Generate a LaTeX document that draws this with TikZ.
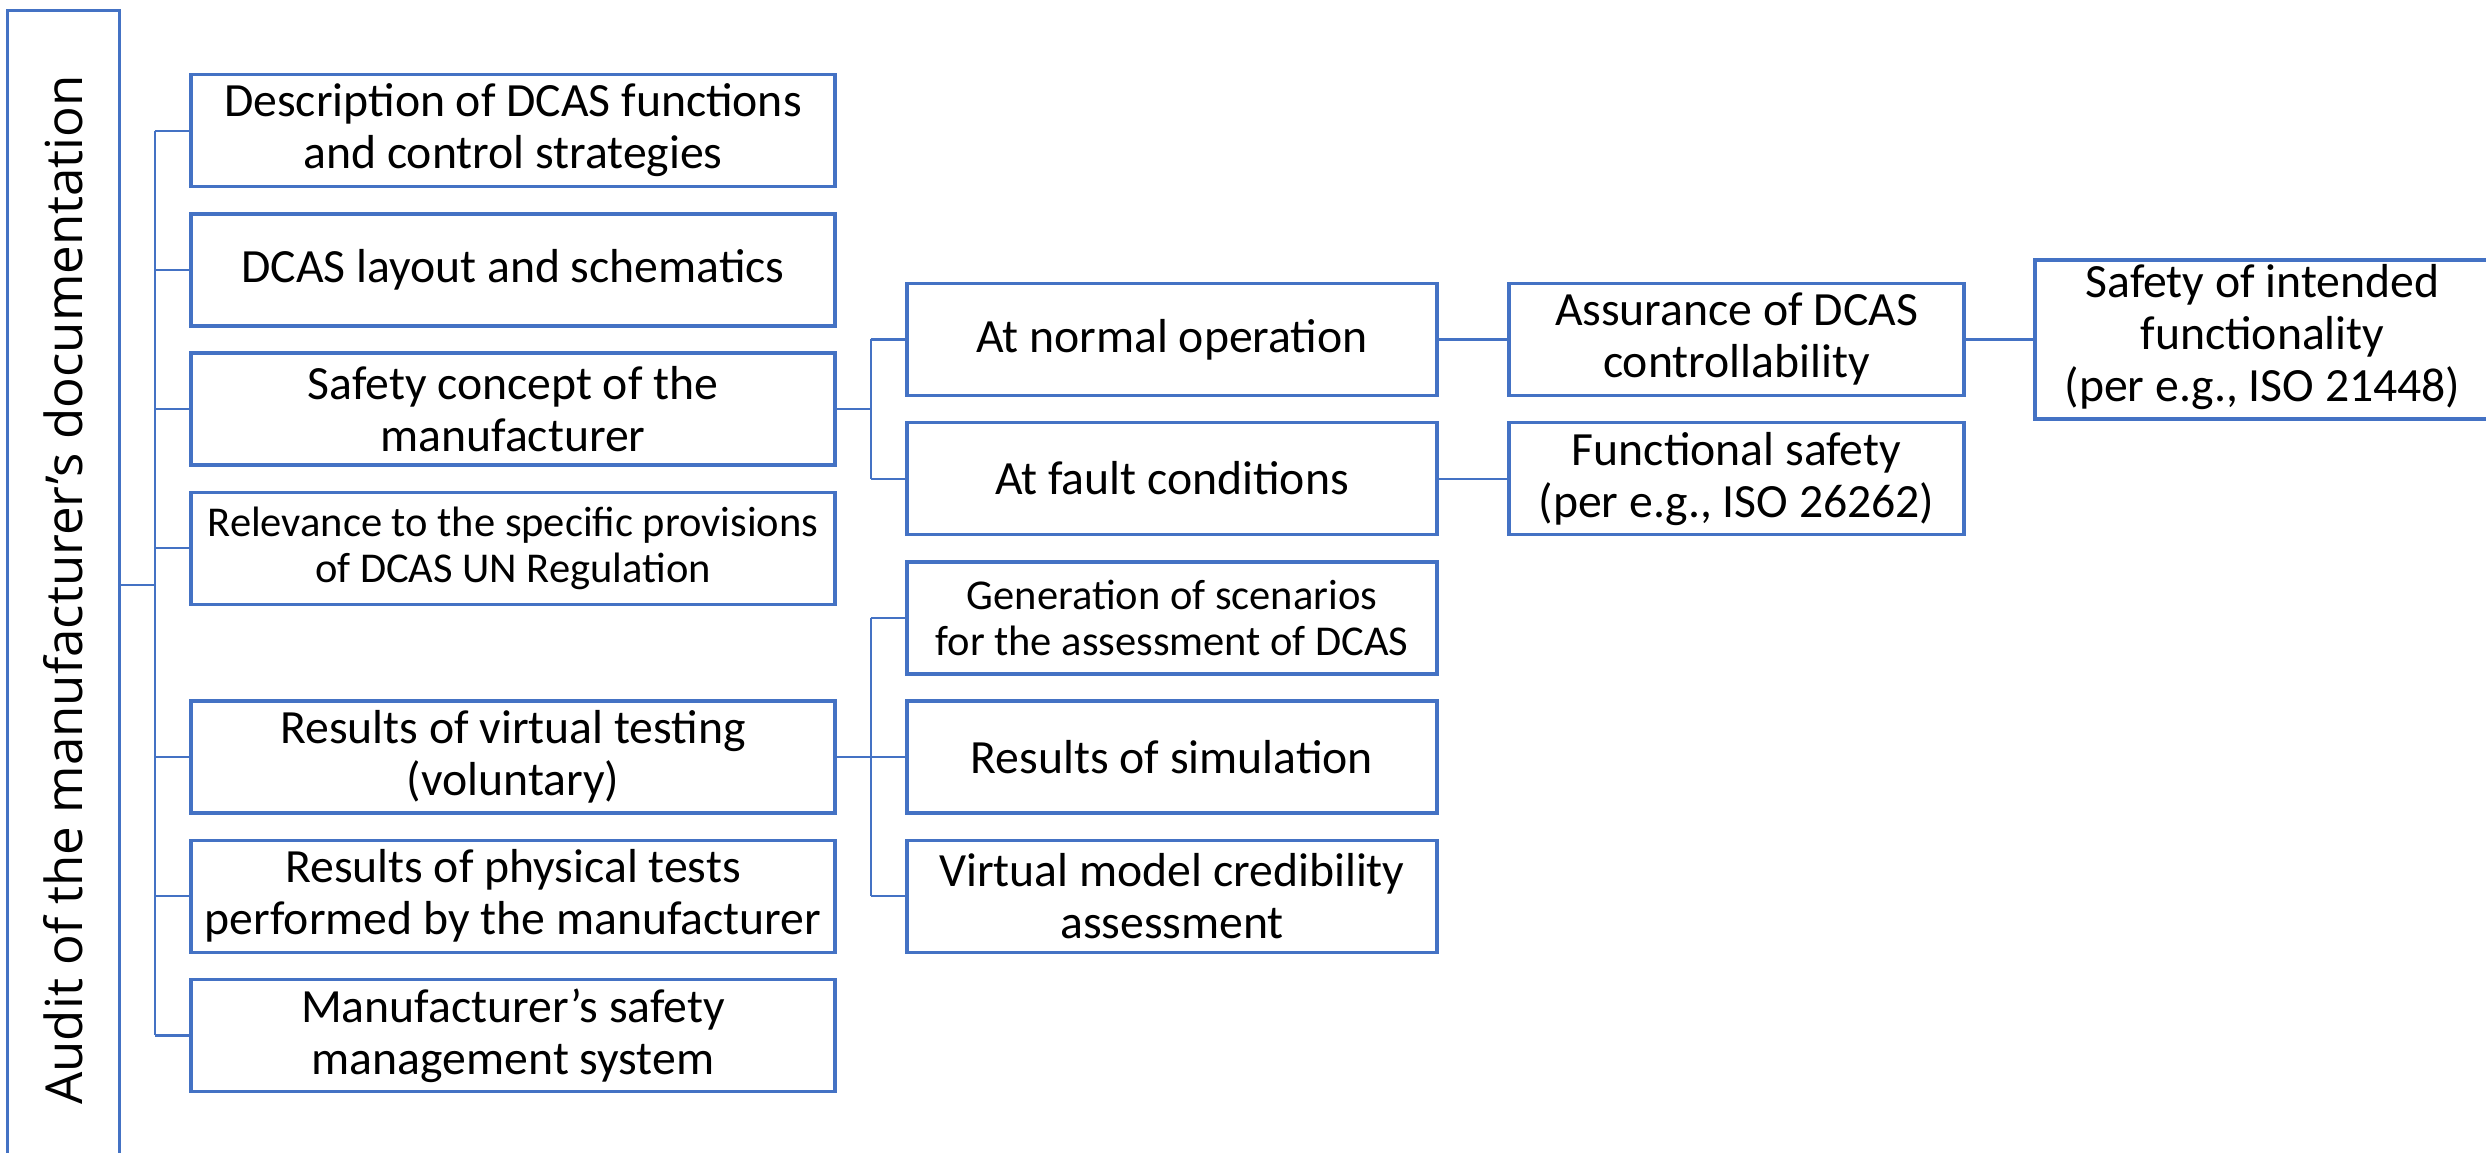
\documentclass[tikz,border=0pt]{standalone}
\usepackage{fontspec}
\setmainfont{Carlito}
\newfontfamily\auditfont{Open Sans}
\definecolor{obl}{HTML}{4472C4}
\begin{document}
\begin{tikzpicture}[x=1pt,y=-1pt,
  box/.style={draw=obl, line width=3.4pt, rectangle, align=center, inner sep=0pt, text=black,
              font=\fontsize{47.7}{52}\selectfont, minimum height=112pt},
  small/.style={font=\fontsize{42.5}{46}\selectfont},
  lone/.style={box, minimum width=644pt},
  ltwo/.style={box, minimum width=530pt},
  lthree/.style={box, minimum width=455pt},
  lfour/.style={box, minimum width=470pt, minimum height=159pt},
  conn/.style={draw=obl, line width=2.2pt}
]
\useasboundingbox (0,0) rectangle (2486,1152);
\clip (0,0) rectangle (2486,1152);

% root
\node[draw=obl, line width=3pt, minimum width=112pt, minimum height=1150pt, inner sep=0pt] (audit) at (63,585)
  {\rotatebox{90}{\hspace*{-10pt}\auditfont\fontsize{51}{60}\selectfont Audit of the manufacturer’s documentation}};

% level 1
\node[lone] (b1) at (513,130.6) {Description of DCAS functions\\and control strategies};
\node[lone] (b2) at (513,269.8) {DCAS layout and schematics};
\node[lone] (b3) at (513,409) {Safety concept of the\\manufacturer};
\node[lone,small] (b4) at (513,548.2) {Relevance to the specific provisions\\of DCAS UN Regulation};
\node[lone] (b5) at (513,757) {Results of virtual testing\\(voluntary)};
\node[lone] (b6) at (513,896.2) {Results of physical tests\\performed by the manufacturer};
\node[lone] (b7) at (513,1035.4) {Manufacturer’s safety\\management system};

% level 2
\node[ltwo] (n1) at (1172,339.4) {At normal operation};
\node[ltwo] (n2) at (1172,478.6) {At fault conditions};
\node[ltwo,small] (g1) at (1172,617.8) {Generation of scenarios\\for the assessment of DCAS};
\node[ltwo] (g2) at (1172,757) {Results of simulation};
\node[ltwo] (g3) at (1172,896.2) {Virtual model credibility\\assessment};

% level 3
\node[lthree] (a1) at (1736.5,339.4) {Assurance of DCAS\\controllability};
\node[lthree] (a2) at (1736.5,478.6) {Functional safety\\(per e.g., ISO 26262)};

% level 4 (runs past the right edge, as in the reference)
\node[lfour] (sotif) at (2270,339.4) {\hspace*{-15pt}\begin{tabular}{@{}c@{}}Safety of intended\\functionality\\(per e.g., ISO 21448)\end{tabular}};

% connectors: root to level 1
\draw[conn] (audit.east) -- ++(34.5,0) coordinate (tr);
\draw[conn] (tr |- b1.west) -- (tr |- b7.west);
\foreach \b in {b1,b2,b3,b4,b5,b6,b7}
  \draw[conn] (tr |- \b.west) -- (\b.west);

% safety concept branch
\draw[conn] (b3.east) -- ++(34,0) coordinate (ta);
\draw[conn] (ta |- n1.west) -- (ta |- n2.west);
\foreach \b in {n1,n2}
  \draw[conn] (ta |- \b.west) -- (\b.west);

% virtual testing branch
\draw[conn] (b5.east) -- ++(34,0) coordinate (tb);
\draw[conn] (tb |- g1.west) -- (tb |- g3.west);
\foreach \b in {g1,g2,g3}
  \draw[conn] (tb |- \b.west) -- (\b.west);

% level 2 to 3 to 4
\draw[conn] (n1.east) -- (a1.west);
\draw[conn] (n2.east) -- (a2.west);
\draw[conn] (a1.east) -- (sotif.west);
\end{tikzpicture}
\end{document}
